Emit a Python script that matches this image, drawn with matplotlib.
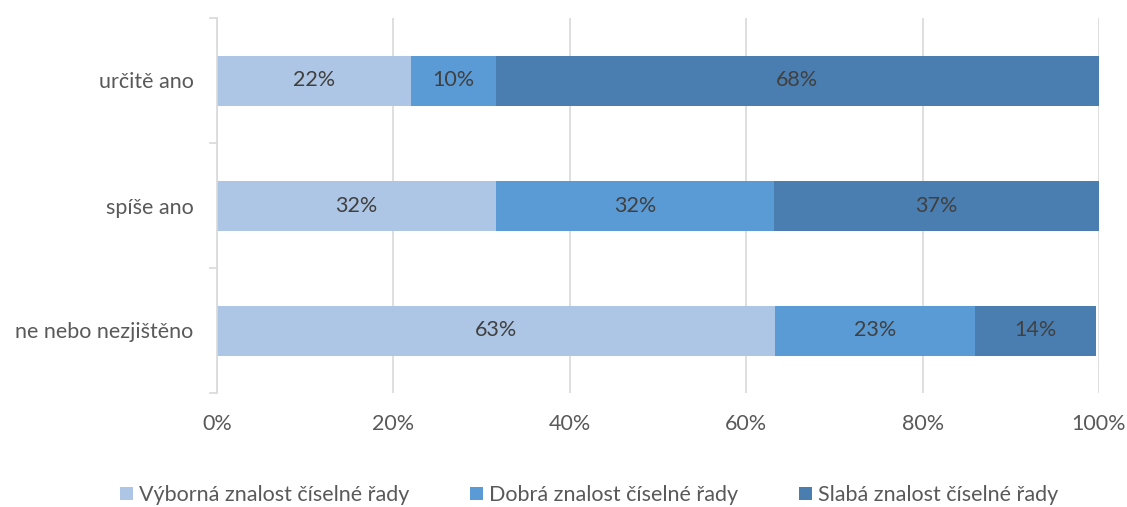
import matplotlib.pyplot as plt
import numpy as np
from matplotlib.patches import Patch

plt.rcParams['font.family'] = ['Lato', 'DejaVu Sans']

categories = ["určitě ano", "spíše ano", "ne nebo nezjištěno"]
series_names = ["Výborná znalost číselné řady", "Dobrá znalost číselné řady", "Slabá znalost číselné řady"]
vyborna = [22.0, 31.6, 63.3]
dobra = [9.6, 31.6, 22.6]
slaba = [68.4, 36.8, 13.8]
x_ticks = [0, 20, 40, 60, 80, 100]
x_tick_labels = ["0%", "20%", "40%", "60%", "80%", "100%"]

colors = ["#ADC6E5", "#5B9BD5", "#4A7EB0"]
text_color = "#404040"
tick_color = "#595959"

fig = plt.figure(figsize=(11.27, 5.07), dpi=100)
ax = fig.add_axes([217/1127, 1 - 393/507, (1099 - 217)/1127, (393 - 18)/507])

y = np.arange(len(categories))
left = np.zeros(len(categories))
for vals, color, name in zip([vyborna, dobra, slaba], colors, series_names):
    vals = np.array(vals)
    ax.barh(y, vals, left=left, height=0.4, color=color, label=name, zorder=3)
    for yi, l, v in zip(y, left, vals):
        ax.text(l + v / 2, yi, f"{round(v):.0f}%", ha="center", va="center",
                fontsize=15.5, color=text_color, zorder=4)
    left += vals

ax.set_xlim(0, 100)
ax.set_ylim(len(categories) - 0.5, -0.5)
ax.set_xticks(x_ticks)
ax.set_xticklabels(x_tick_labels, fontsize=15.5, color=tick_color)
ax.set_yticks(y)
ax.set_yticklabels(categories, fontsize=15.5, color=tick_color)
ax.set_yticks(np.arange(-0.5, len(categories), 1.0), minor=True)
ax.tick_params(axis="y", which="major", length=0, pad=17)
ax.tick_params(axis="y", which="minor", length=6, color="#D9D9D9", width=1.2)
ax.tick_params(axis="x", length=0, pad=15)

ax.grid(axis="x", color="#D9D9D9", linewidth=1.2, zorder=0)
for s in ["top", "right", "bottom"]:
    ax.spines[s].set_visible(False)
ax.spines["left"].set_color("#D9D9D9")
ax.spines["left"].set_linewidth(1.2)
ax.spines["left"].set_zorder(5)

handles = [Patch(facecolor=c, label=n) for c, n in zip(colors, series_names)]
fig.legend(handles=handles, loc="center", bbox_to_anchor=(589/1127, 1 - 495/507),
           ncol=3, frameon=False, fontsize=15.5, labelcolor=tick_color,
           handlelength=0.6, handleheight=0.6, handletextpad=0.3, columnspacing=2.8)

fig.savefig("out.png", dpi=100)
